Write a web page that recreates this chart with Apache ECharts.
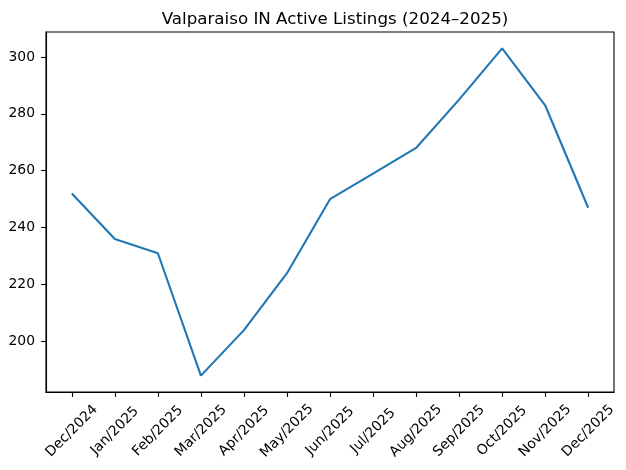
<!DOCTYPE html>
<html>
<head>
<meta charset="utf-8">
<script src="https://cdn.jsdelivr.net/npm/echarts@6/dist/echarts.min.js"></script>
<style>html,body{margin:0;padding:0;background:#fff}#c{width:626px;height:470px}</style>
</head>
<body>
<div id="c"></div>
<script>
const categories = ["Dec/2024","Jan/2025","Feb/2025","Mar/2025","Apr/2025","May/2025","Jun/2025","Jul/2025","Aug/2025","Sep/2025","Oct/2025","Nov/2025","Dec/2025"];
const listings = [252, 236, 231, 188, 204, 224, 250, 259, 268, 285, 303, 283, 247];
const yTicks = [200, 220, 240, 260, 280, 300];
const titleText = "Valparaiso IN Active Listings (2024–2025)";

const font = "DejaVu Sans";
const xIdx = categories.map((_, i) => i);
const chart = echarts.init(document.getElementById('c'), null, {renderer: 'canvas'});
chart.setOption({
  animation: false,
  backgroundColor: '#fff',
  title: {
    text: titleText, left: 330, top: 6, textAlign: 'center',
    textStyle: {fontFamily: font, fontSize: 16.7, fontWeight: 'normal', color: '#000'}
  },
  grid: {left: 46, right: 12, top: 32, bottom: 78, show: true, borderColor: '#000', borderWidth: 1.1, containLabel: false},
  xAxis: {
    type: 'value', min: -0.6, max: 12.6,
    splitLine: {show: false},
    axisLine: {show: true, onZero: false, lineStyle: {color: '#000', width: 1.1}},
    axisTick: {show: true, length: 4.9, lineStyle: {color: '#000', width: 1.1}, customValues: xIdx},
    axisLabel: {
      customValues: xIdx, rotate: 45, align: 'center', verticalAlign: 'middle', margin: 39,
      fontFamily: font, fontSize: 13.9, color: '#000',
      formatter: v => categories[Math.round(v)]
    }
  },
  yAxis: {
    type: 'value', min: 182.25, max: 308.75,
    splitLine: {show: false},
    axisLine: {show: true, onZero: false, lineStyle: {color: '#000', width: 1.1}},
    axisTick: {show: true, length: 4.9, lineStyle: {color: '#000', width: 1.1}, customValues: yTicks},
    axisLabel: {customValues: yTicks, margin: 11, fontFamily: font, fontSize: 13.9, color: '#000'}
  },
  series: [{
    type: 'line', data: listings.map((v, i) => [i, v]),
    showSymbol: false, lineStyle: {color: '#1f77b4', width: 2.1}, itemStyle: {color: '#1f77b4'}
  }]
});
</script>
</body>
</html>
